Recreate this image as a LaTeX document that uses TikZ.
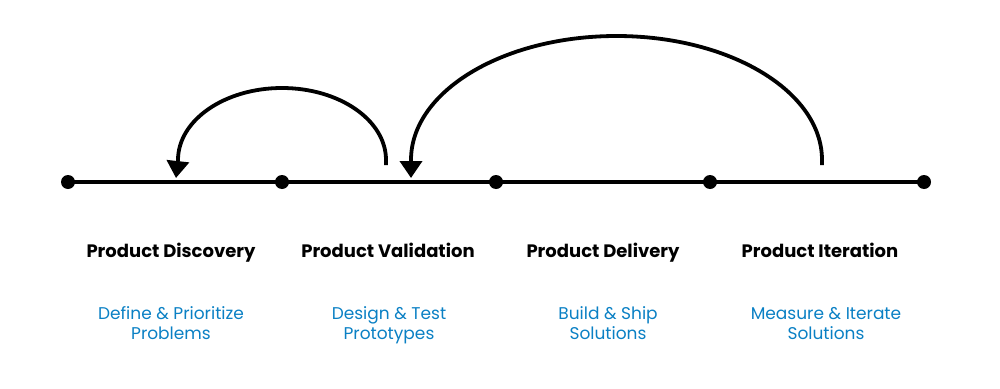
\documentclass[tikz,border=0pt]{standalone}
\usepackage{fontspec}
\setmainfont{Poppins}
\usetikzlibrary{arrows.meta}
\definecolor{stepblue}{HTML}{0A80C4}
\begin{document}
\begin{tikzpicture}[x=1pt,y=-1pt,
  dot/.style={circle,fill=black,inner sep=0pt,minimum size=14pt},
  axis/.style={line width=3.6pt},
  loop/.style={line width=3.8pt,-{Triangle[width=22pt,length=17pt]}},
  head/.style={font=\fontsize{18}{20}\selectfont\bfseries,text=black,anchor=base,inner sep=0pt},
  sub/.style={font=\fontsize{17}{20}\selectfont,text=stepblue,align=center,anchor=base,inner sep=0pt}]
\useasboundingbox (0,0) rectangle (1000,388);
\node[dot] (d1) at (68,182) {};
\node[dot] (d2) at (282,182) {};
\node[dot] (d3) at (496,182) {};
\node[dot] (d4) at (710,182) {};
\node[dot] (d5) at (924,182) {};
\draw[axis] (d1.center) -- (d5.center);
\coordinate (s1) at (386,165);
\coordinate (t1) at (176,178);
\draw[loop] (s1) -- ++(0,-5) arc[start angle=0,end angle=-180,x radius=104,y radius=72] -- (t1);
\coordinate (s2) at (822,165);
\coordinate (t2) at (411,178);
\draw[loop] (s2) -- ++(0,-5) arc[start angle=0,end angle=-180,x radius=205.5,y radius=124] -- (t2);
\node[head] (h1) at (171,257) {Product Discovery};
\node[head] (h2) at (388,257) {Product Validation};
\node[head] (h3) at (603,257) {Product Delivery};
\node[head] (h4) at (820,257) {Product Iteration};
\node[sub] (b1) at (171,339) {Define \& Prioritize\\Problems};
\node[sub] (b2) at (389,339) {Design \& Test\\Prototypes};
\node[sub] (b3) at (608,339) {Build \& Ship\\Solutions};
\node[sub] (b4) at (826,339) {Measure \& Iterate\\Solutions};
\end{tikzpicture}
\end{document}
